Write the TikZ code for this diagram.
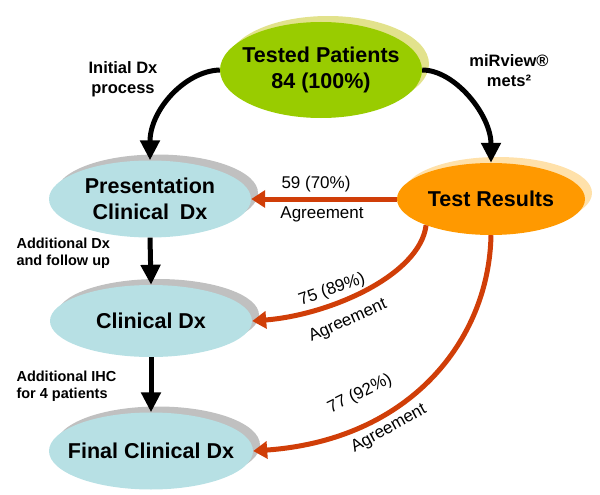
\documentclass[tikz,border=0pt]{standalone}
\usepackage{fontspec}
\setmainfont{Liberation Sans}
\usetikzlibrary{shapes.geometric,arrows.meta,shadows}
\definecolor{bluefill}{RGB}{183,224,228}
\definecolor{greenfill}{RGB}{153,204,0}
\definecolor{greenshadow}{RGB}{226,226,140}
\definecolor{orangefill}{RGB}{255,153,0}
\definecolor{orangeshadow}{RGB}{255,225,170}
\definecolor{grayshadow}{RGB}{192,192,192}
\definecolor{redline}{RGB}{208,62,8}
\tikzset{
  ell/.style={ellipse, inner sep=-20pt, font=\fontsize{21.5}{26}\selectfont\bfseries, align=center},
  blueell/.style={ell, fill=bluefill, general shadow={shadow xshift=7pt, shadow yshift=6pt, fill=grayshadow}},
  blackarrow/.style={line width=5pt, -{Triangle[length=20pt,width=19pt]}},
  redarrow/.style={line width=5pt, draw=redline, -{Triangle[length=14pt,width=17pt]}},
  sidelbl/.style={font=\fontsize{16.5}{20}\selectfont\bfseries, align=center},
  leftlbl/.style={font=\fontsize{14.5}{17}\selectfont\bfseries, align=left, anchor=west},
  redlbl/.style={font=\fontsize{17}{20}\selectfont, inner sep=1pt},
}
\begin{document}
\begin{tikzpicture}[x=1pt,y=-1pt]
\useasboundingbox (0,0) rectangle (600,495);
% ellipses
\node[ell, fill=greenfill, minimum width=202pt, minimum height=96pt,
  general shadow={shadow xshift=7pt, shadow yshift=6pt, fill=greenshadow}] (tp) at (321,70) {Tested Patients\\84 (100\%)};
\node[ell, fill=orangefill, minimum width=188pt, minimum height=72pt,
  general shadow={shadow xshift=7pt, shadow yshift=6pt, fill=orangeshadow}] (tr) at (491,199) {Test Results};
\node[blueell, minimum width=202pt, minimum height=77pt] (pcd) at (150,199) {Presentation\\Clinical\hspace{0.5em}Dx};
\node[blueell, minimum width=202pt, minimum height=72pt] (cd) at (151,321) {Clinical Dx};
\node[blueell, minimum width=204pt, minimum height=77pt] (fcd) at (151,451) {Final Clinical Dx};
% black arrows
\draw[blackarrow] (tp.west) .. controls (185,71) and (150,110) .. (pcd.north);
\draw[blackarrow] (tp.east) .. controls (455,70) and (491,115) .. (tr.north);
\draw[blackarrow] (pcd.south) -- (cd.north);
\draw[blackarrow] (cd.south) -- (fcd.north);
% red arrows
\draw[redarrow] (tr.west) -- (pcd.east);
\draw[redarrow] (tr.202) .. controls (420,275) and (330,315) .. (cd.east);
\draw[redarrow] (tr.south) .. controls (489,340) and (410,440) .. (fcd.east);
% labels
\node[sidelbl] (linit) at (123,79) {Initial Dx\\process};
\node[sidelbl] (lmir) at (509,71) {miRview®\\mets²};
\node[leftlbl] (ladd1) at (13,253) {Additional Dx\\and follow up};
\node[leftlbl] (ladd2) at (13,386) {Additional IHC\\for 4 patients};
\node[redlbl] (l59) at (316,184) {59 (70\%)};
\node[redlbl] (ag1) at (322,214) {Agreement};
\node[redlbl, rotate=19] (l75) at (332,290) {75 (89\%)};
\node[redlbl, rotate=24] (ag2) at (348,321) {Agreement};
\node[redlbl, rotate=26] (l77) at (360,394) {77 (92\%)};
\node[redlbl, rotate=29] (ag3) at (389,429) {Agreement};
\end{tikzpicture}
\end{document}
